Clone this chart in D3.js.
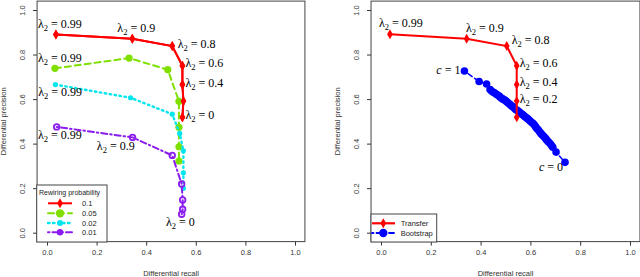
<!DOCTYPE html>
<html>
<head>
<meta charset="utf-8">
<script src="https://cdn.jsdelivr.net/npm/d3@7"></script>
<style>
  body { margin: 0; background: #fff; }
  text { font-family: "Liberation Sans", Arial, sans-serif; }
  .lab { font-family: "Liberation Serif", "Times New Roman", serif; font-size: 12px; }
</style>
</head>
<body>
<svg id="chart" width="640" height="277"></svg>
<script>
// <-- data -->
const lambdas = ["0.99", "0.9", "0.8", "0.6", "0.4", "0.2", "0"];
const rewiring = ["0.1", "0.05", "0.02", "0.01"];
const ticks = [0, 0.2, 0.4, 0.6, 0.8, 1.0];

// left panel, one pair of arrays per rewiring probability
const recall_01  = [0.036, 0.344, 0.505, 0.546, 0.546, 0.550, 0.546];
const prec_01    = [0.890, 0.871, 0.838, 0.750, 0.665, 0.591, 0.518];
const recall_005 = [0.032, 0.331, 0.487, 0.532, 0.532, 0.532, 0.532];
const prec_005   = [0.738, 0.784, 0.732, 0.590, 0.473, 0.386, 0.322];
const recall_002 = [0.034, 0.337, 0.505, 0.535, 0.550, 0.550, 0.550];
const prec_002   = [0.665, 0.606, 0.532, 0.446, 0.368, 0.269, 0.200];
const recall_001 = [0.039, 0.345, 0.505, 0.543, 0.547, 0.547, 0.543];
const prec_001   = [0.475, 0.428, 0.347, 0.219, 0.147, 0.105, 0.083];

// right panel
const transferRecall = [0.036, 0.344, 0.505, 0.545, 0.545, 0.545, 0.545];
const transferPrec   = [0.891, 0.871, 0.838, 0.750, 0.665, 0.591, 0.518];
const bootRecall = [0.335, 0.394, 0.424, 0.438, 0.444, 0.451, 0.457, 0.463, 0.470, 0.476,
  0.481, 0.487, 0.492, 0.499, 0.505, 0.510, 0.516, 0.521, 0.527, 0.531, 0.536, 0.541,
  0.546, 0.551, 0.557, 0.562, 0.567, 0.572, 0.578, 0.584, 0.590, 0.596, 0.601, 0.607,
  0.612, 0.617, 0.622, 0.627, 0.632, 0.637, 0.642, 0.647, 0.652, 0.658, 0.663, 0.668,
  0.673, 0.679, 0.685, 0.690, 0.703, 0.739];
const bootPrec = [0.726, 0.679, 0.668, 0.643, 0.636, 0.631, 0.627, 0.622, 0.617, 0.612,
  0.606, 0.602, 0.598, 0.594, 0.588, 0.583, 0.578, 0.573, 0.567, 0.565, 0.559, 0.553,
  0.550, 0.546, 0.541, 0.535, 0.532, 0.527, 0.521, 0.516, 0.511, 0.505, 0.499, 0.494,
  0.489, 0.482, 0.474, 0.467, 0.461, 0.453, 0.446, 0.440, 0.434, 0.427, 0.420, 0.413,
  0.407, 0.400, 0.391, 0.384, 0.362, 0.316];

// <-- drawing -->
const svg = d3.select("#chart");

const styles = {
  red:    { color: "#ff0000", dash: null,        width: 2,   mark: "diamond", r: 2.6 },
  green:  { color: "#7fe000", dash: "6,4",       width: 2,   mark: "dot",  r: 3.6 },
  cyan:   { color: "#00e5ee", dash: "1.5,3.5",   width: 2.4, mark: "dot",  r: 2.6 },
  purple: { color: "#8a1cf0", dash: "1.5,3,6,3", width: 2,   mark: "ring", r: 2.8 },
  blue:   { color: "#0000ff", dash: "1.5,3,5,3", width: 1.5, mark: "dot",  r: 3.8 }
};

function makePanel(left, xr) {
  const x = d3.scaleLinear().domain([0, 1]).range(xr);
  const y = d3.scaleLinear().domain([0, 1]).range([232.7, 10]);
  const g = svg.append("g");
  const x0 = x(-0.04), x1 = x(1.04), y0 = y(-0.04), y1 = y(1.04);

  // x axis
  const xa = g.append("g").attr("transform", `translate(0,${y0})`)
    .call(d3.axisBottom(x).tickValues(ticks).tickFormat(d3.format(".1f")).tickSize(4).tickPadding(4));
  xa.select(".domain").remove();
  xa.selectAll("text").attr("font-size", 7.5).attr("fill", "#333").attr("font-family", null);
  xa.selectAll("line").attr("stroke", "#333");

  // y axis, labels turned like R
  const ya = g.append("g").attr("transform", `translate(${x0},0)`)
    .call(d3.axisLeft(y).tickValues(ticks).tickFormat(d3.format(".1f")).tickSize(4));
  ya.select(".domain").remove();
  ya.selectAll("line").attr("stroke", "#333");
  ya.selectAll("text").attr("font-size", 7.5).attr("fill", "#333").attr("font-family", null)
    .attr("x", null).attr("dy", null)
    .attr("text-anchor", "middle")
    .attr("transform", "translate(-14.5,0) rotate(-90) translate(0,2.6)");

  g.append("text").attr("x", (x0 + x1) / 2).attr("y", 276)
    .attr("text-anchor", "middle").attr("font-size", 7.5).attr("fill", "#333")
    .text("Differential recall");
  g.append("text")
    .attr("transform", `translate(${x0 - 31},${(y0 + y1) / 2}) rotate(-90)`)
    .attr("text-anchor", "middle").attr("font-size", 7.5).attr("fill", "#333")
    .text("Differential precision");

  g.append("rect").attr("x", x0).attr("y", y1).attr("width", x1 - x0).attr("height", y0 - y1)
    .attr("fill", "none").attr("stroke", "#444").attr("stroke-width", 1);

  return { g, x, y, x0, x1, y0, y1 };
}

function drawMark(g, cx, cy, st, big) {
  const r = st.r * (big || 1);
  if (st.mark === "diamond") {
    g.append("path").attr("d", d3.symbol(d3.symbolDiamond, r * r * 4.2)())
      .attr("transform", `translate(${cx},${cy})`).attr("fill", st.color);
  } else if (st.mark === "ring") {
    g.append("circle").attr("cx", cx).attr("cy", cy).attr("r", r)
      .attr("fill", "none").attr("stroke", st.color).attr("stroke-width", 1.8);
  } else {
    g.append("circle").attr("cx", cx).attr("cy", cy).attr("r", r).attr("fill", st.color);
  }
}

function drawSeries(p, xs, ys, st) {
  const pts = xs.map((v, i) => [p.x(v), p.y(ys[i])]);
  p.g.append("path").attr("d", d3.line()(pts))
    .attr("fill", "none").attr("stroke", st.color).attr("stroke-width", st.width)
    .attr("stroke-dasharray", st.dash).attr("stroke-linecap", st.dash ? "round" : "butt");
  pts.forEach(d => drawMark(p.g, d[0], d[1], st));
  return pts;
}

function lambdaLabel(g, pt, val, dx, dy, anchor) {
  const t = g.append("text").attr("class", "lab")
    .attr("x", pt[0] + dx).attr("y", pt[1] + dy).attr("text-anchor", anchor || "start");
  t.append("tspan").text("\u03bb");
  t.append("tspan").attr("font-size", 8.5).attr("dy", 3).text("2");
  t.append("tspan").attr("dy", -3).text(" = " + val);
}

function cLabel(g, pt, val, dx, dy) {
  const t = g.append("text").attr("class", "lab")
    .attr("x", pt[0] + dx).attr("y", pt[1] + dy).attr("text-anchor", "end");
  t.append("tspan").attr("font-style", "italic").text("c");
  t.append("tspan").text(" = " + val);
}

// left panel
const L = makePanel(true, [47, 295]);
const pRed = drawSeries(L, recall_01, prec_01, styles.red);
const pGreen = drawSeries(L, recall_005, prec_005, styles.green);
const pCyan = drawSeries(L, recall_002, prec_002, styles.cyan);
const pPurple = drawSeries(L, recall_001, prec_001, styles.purple);
// redraw red on top
drawSeries(L, recall_01, prec_01, styles.red);

lambdaLabel(L.g, pRed[0], lambdas[0], -18, -6);
lambdaLabel(L.g, pRed[1], lambdas[1], -15, -6.7);
lambdaLabel(L.g, pRed[2], lambdas[2], 5.5, 1.5);
lambdaLabel(L.g, pRed[3], lambdas[3], 3, 1.8);
lambdaLabel(L.g, pRed[4], lambdas[4], 3, 2.3);
lambdaLabel(L.g, pRed[6], lambdas[6], 3, 1.8);
lambdaLabel(L.g, pGreen[0], lambdas[0], -17, -6.3);
lambdaLabel(L.g, pCyan[0], lambdas[0], -17.3, 11.5);
lambdaLabel(L.g, pPurple[0], lambdas[0], -18.7, 12);
lambdaLabel(L.g, pPurple[1], lambdas[1], -35.7, 12.7);
lambdaLabel(L.g, pPurple[6], lambdas[6], -15.7, 12);

// left legend
const legL = L.g.append("g");
legL.append("rect").attr("x", 36.7).attr("y", 185).attr("width", 70.3).attr("height", 57)
  .attr("fill", "#fff").attr("stroke", "#444");
legL.append("text").attr("x", 39).attr("y", 195.3).attr("font-size", 7).attr("fill", "#222")
  .text("Rewiring probability");
[styles.red, styles.green, styles.cyan, styles.purple].forEach((st, i) => {
  const yy = [203.3, 213.3, 223, 232.3][i];
  legL.append("line").attr("x1", 48).attr("x2", 72).attr("y1", yy).attr("y2", yy)
    .attr("stroke", st.color).attr("stroke-width", st.width)
    .attr("stroke-dasharray", st.dash).attr("stroke-linecap", st.dash ? "round" : "butt");
  const m = st.mark === "ring" ? Object.assign({}, st, { mark: "dot" }) : st;
  drawMark(legL, 60, yy, m, st.mark === "diamond" ? 1 : 1.15);
  legL.append("text").attr("x", 82).attr("y", yy + 2.7).attr("font-size", 7.5)
    .attr("fill", "#222").text(rewiring[i]);
});

// right panel
const R = makePanel(false, [381, 630]);
const pBoot = drawSeries(R, bootRecall, bootPrec, styles.blue);
const pTr = drawSeries(R, transferRecall, transferPrec, styles.red);

lambdaLabel(R.g, pTr[0], lambdas[0], -11, -7);
lambdaLabel(R.g, pTr[1], lambdas[1], -0.7, -6.7);
lambdaLabel(R.g, pTr[2], lambdas[2], 5, -2);
lambdaLabel(R.g, pTr[3], lambdas[3], 3, 1.8);
lambdaLabel(R.g, pTr[4], lambdas[4], 3, 1.8);
lambdaLabel(R.g, pTr[5], lambdas[5], 3, 1.5);
cLabel(R.g, pBoot[0], "1", -4, 2.5);
cLabel(R.g, pBoot[pBoot.length - 1], "0", -2, 9);

// right legend
const legR = R.g.append("g");
legR.append("rect").attr("x", 371).attr("y", 214).attr("width", 65.7).attr("height", 28)
  .attr("fill", "#fff").attr("stroke", "#444");
[["Transfer", styles.red], ["Bootstrap", styles.blue]].forEach((d, i) => {
  const yy = [223.3, 233][i];
  const st = d[1];
  legR.append("line").attr("x1", 372).attr("x2", 395).attr("y1", yy).attr("y2", yy)
    .attr("stroke", st.color).attr("stroke-width", i === 0 ? 2.2 : 1.8)
    .attr("stroke-dasharray", st.dash).attr("stroke-linecap", st.dash ? "round" : "butt");
  drawMark(legR, 383.3, yy, st, i === 0 ? 1 : 1.1);
  legR.append("text").attr("x", 400.7).attr("y", yy + 2.7).attr("font-size", 7.5)
    .attr("fill", "#222").text(d[0]);
});
</script>
</body>
</html>
